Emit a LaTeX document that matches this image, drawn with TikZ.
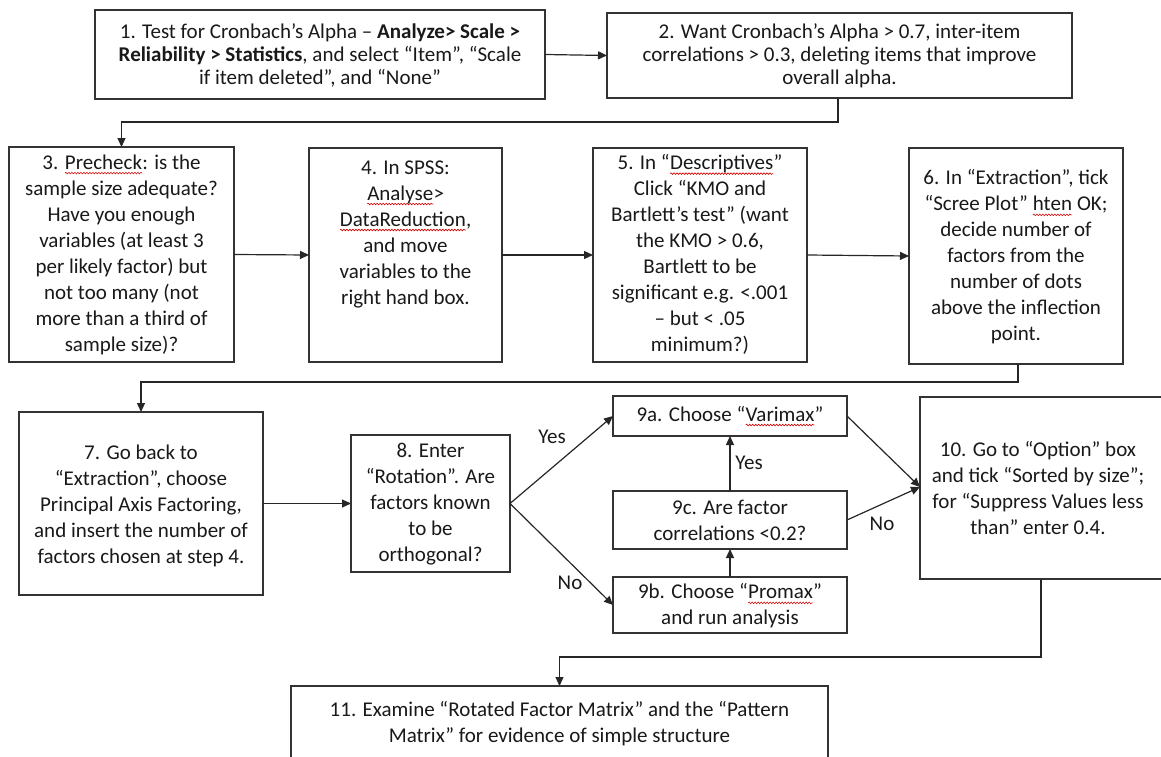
\documentclass[tikz,border=0pt]{standalone}
\usepackage{fontspec}
\setmainfont{Carlito}
\usetikzlibrary{arrows.meta,decorations.pathmorphing}
% word with a red wavy underline, as a spell checker draws it
\newcommand\spk[1]{\tikz[baseline=(w.base)]{%
  \node[inner sep=0pt,outer sep=0pt,draw=none,fill=none,align=left] (w) {#1};%
  \draw[red!85!black,line width=0.6pt,decorate,decoration={snake,amplitude=0.8pt,segment length=3pt}]
    ([yshift=-4pt]w.base west) -- ([yshift=-4pt]w.base east);}}
\tikzset{
  box/.style={draw=black!80, line width=1.3pt, fill=white, inner sep=0pt, outer sep=0pt},
  txt/.style={align=center, inner sep=0pt, text=black!90, font=\fontsize{21}{26}\selectfont},
  txttop/.style={txt, font=\fontsize{21}{23}\selectfont},
  lbl/.style={inner sep=0pt, text=black!90, font=\fontsize{21}{26}\selectfont},
  flow/.style={draw=black!85, line width=1.2pt, -{Triangle[length=9pt,width=8pt]}}
}
\begin{document}
\begin{tikzpicture}[x=1pt,y=-1pt]
\useasboundingbox (0,0) rectangle (1161,757);
\clip (0,0) rectangle (1161,757);

% boxes
\node[box, minimum width=450, minimum height=89]  (b1)  at (320,54.5) {};
\node[box, minimum width=465, minimum height=85]  (b2)  at (839.5,55.5) {};
\node[box, minimum width=225, minimum height=215] (b3)  at (121.5,254.5) {};
\node[box, minimum width=193, minimum height=214] (b4)  at (405.5,255) {};
\node[box, minimum width=214, minimum height=214] (b5)  at (700,255) {};
\node[box, minimum width=214, minimum height=216] (b6)  at (1016,256) {};
\node[box, minimum width=244, minimum height=183] (b7)  at (141,503.5) {};
\node[box, minimum width=159, minimum height=137] (b8)  at (430.5,503.5) {};
\node[box, minimum width=234, minimum height=40]  (b9a) at (730,416) {};
\node[box, minimum width=234, minimum height=58]  (b9c) at (730,520) {};
\node[box, minimum width=234, minimum height=56]  (b9b) at (730,605) {};
\node[box, minimum width=280, minimum height=182] (b10) at (1060,488) {};
\node[box, minimum width=537, minimum height=114] (b11) at (559.5,743) {};

% box texts
\node[txttop] (t1) at (320,55) {1. Test for Cronbach’s Alpha – \textbf{Analyze> Scale >}\\
  \textbf{Reliability > Statistics}, and select “Item”, “Scale\\
  if item deleted”, and “None”};
\node[txttop] (t2) at (839.5,56) {2. Want Cronbach’s Alpha > 0.7, inter-item\\
  correlations > 0.3, deleting items that improve\\
  overall alpha.};
\node[txt] (t3) at (121.5,254.5) {3. \spk{Precheck}: is the\\ sample size adequate?\\ Have you enough\\
  variables (at least 3\\ per likely factor) but\\ not too many (not\\ more than a third of\\ sample size)?};
\node[txt] (t4) at (405.5,234) {4. In SPSS:\\ \spk{Analyse}>\\ \spk{DataReduction},\\ and move\\
  variables to the\\ right hand box.};
\node[txt] (t5) at (700,254.5) {5. In “\spk{Descriptives}”\\ Click “KMO and\\ Bartlett’s test” (want\\
  the KMO > 0.6,\\ Bartlett to be\\ significant e.g. <.001\\ – but < .05\\ minimum?)};
\node[txt] (t6) at (1016,257) {6. In “Extraction”, tick\\ “Scree Plot” \spk{hten} OK;\\ decide number of\\
  factors from the\\ number of dots\\ above the inflection\\ point.};
\node[txt] (t7) at (141,506) {7. Go back to\\ “Extraction”, choose\\ Principal Axis Factoring,\\
  and insert the number of\\ factors chosen at step 4.};
\node[txt] (t8) at (430.5,504.5) {8. Enter\\ “Rotation”. Are\\ factors known\\ to be\\ orthogonal?};
\node[txt] (t9a) at (730,416) {9a. Choose “\spk{Varimax}”};
\node[txt] (t9c) at (730,520) {9c. Are factor\\ correlations <0.2?};
\node[txt] (t9b) at (730,606) {9b. Choose “\spk{Promax}”\\ and run analysis};
\node[txt] (t10) at (1038,488.5) {10. Go to “Option” box\\ and tick “Sorted by size”;\\
  for “Suppress Values less\\ than” enter 0.4.};
\node[txt] (t11) at (559.5,724) {11. Examine “Rotated Factor Matrix” and the “Pattern\\
  Matrix” for evidence of simple structure};

% elbow points of the return connectors
\coordinate (k23) at (838,122);
\coordinate (k67) at (1018,382);
\coordinate (k1011) at (1041,657);

% connectors
\draw[flow] (b1.east) -- (b2.west);
\draw[flow] (b2.south -| k23) -- (k23) -| (b3.north);
\draw[flow] (b3.east) -- (b4.west);
\draw[flow] (b4.east) -- (b5.west);
\draw[flow] (b5.east) -- (b6.west);
\draw[flow] (b6.south -| k67) -- (k67) -| (b7.north);
\draw[flow] (b7.east) -- (b8.west);
\draw[flow] (b8.east) -- (b9a.west);
\draw[flow] (b8.east) -- (b9b.west);
\draw[flow] (b9b.north) -- (b9c.south);
\draw[flow] (b9c.north) -- (b9a.south);
\draw[flow] (b9a.east) -- (b10.west |- 0,487);
\draw[flow] (b9c.east) -- (b10.west |- 0,487);
\draw[flow] (b10.south -| k1011) -- (k1011) -| (b11.north);

% branch labels
\node[lbl] (yes1) at (552,437) {Yes};
\node[lbl] (no1)  at (570,583) {No};
\node[lbl] (yes2) at (749,463) {Yes};
\node[lbl] (no2)  at (882,524) {No};
\end{tikzpicture}
\end{document}
